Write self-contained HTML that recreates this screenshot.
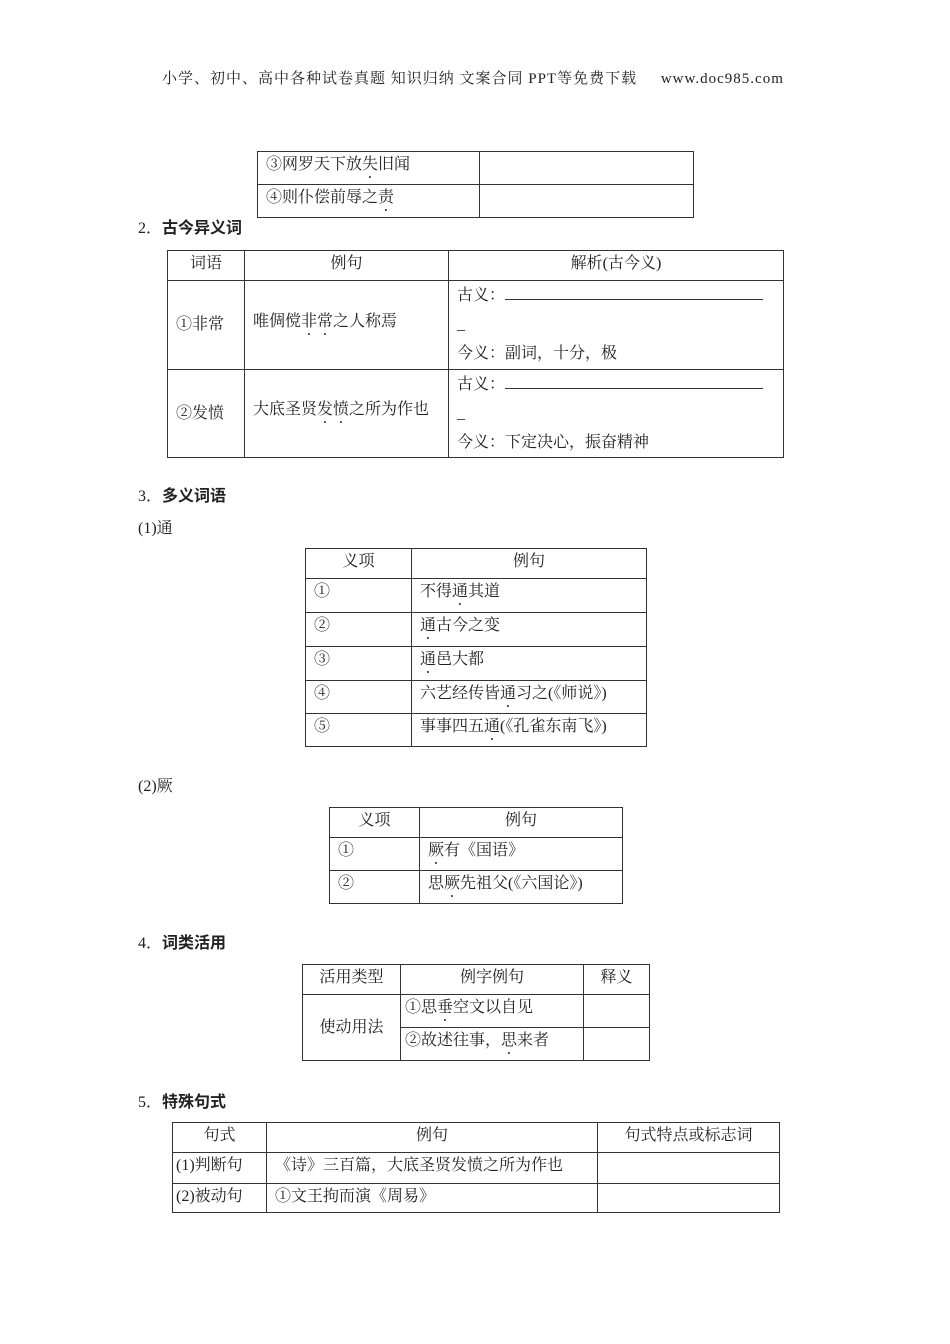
<!DOCTYPE html>
<html><head><meta charset="utf-8"><style>
body{margin:0;width:950px;height:1344px;background:#fff;position:relative;font-family:"Liberation Serif","Noto Serif CJK SC","Noto Sans CJK SC",serif;color:#222;font-size:16px;}
.a{position:absolute;white-space:nowrap;line-height:20px;}
b{font-family:"Liberation Sans","Noto Sans CJK SC",sans-serif;font-weight:bold;}
table{position:absolute;border-collapse:collapse;table-layout:fixed;}
td{border:1px solid #333;padding:3px 0 0 8px;vertical-align:top;line-height:20px;white-space:nowrap;overflow:hidden;font-size:16px;}
td.c{text-align:center;padding-left:0;}
td.m{vertical-align:middle;padding-top:0;}
em{font-style:normal;-webkit-text-emphasis:filled dot;text-emphasis:filled dot;-webkit-text-emphasis-position:under;text-emphasis-position:under right;}
</style></head><body>
<div class="a" style="left:162px;top:69px;font-size:15px;letter-spacing:1px;">小学、初中、高中各种试卷真题&nbsp;知识归纳&nbsp;文案合同&nbsp;PPT等免费下载&nbsp;&nbsp;&nbsp;&nbsp;&nbsp;www.doc985.com</div>

<table style="left:257px;top:151px;width:436px;">
<col style="width:222px"><col style="width:214px">
<tr style="height:33px"><td>③网罗天下放<em>失</em>旧闻</td><td></td></tr>
<tr style="height:33px"><td>④则仆偿前辱之<em>责</em></td><td></td></tr>
</table>

<div class="a" style="left:138px;top:219px;">2．<b>古今异义词</b></div>
<table style="left:167px;top:250px;width:616px;">
<col style="width:77px"><col style="width:204px"><col style="width:335px">
<tr style="height:30px"><td class="c">词语</td><td class="c">例句</td><td class="c">解析(古今义)</td></tr>
<tr style="height:89px"><td class="m">①非常</td><td class="m">唯倜傥<em>非常</em>之人称焉</td><td style="line-height:29px;padding-top:0">古义：<span style="display:inline-block;width:258px;border-bottom:1px solid #333;height:18px;vertical-align:baseline"></span><br>_<br>今义：副词，十分，极</td></tr>
<tr style="height:88px"><td class="m">②发愤</td><td class="m">大底圣贤<em>发愤</em>之所为作也</td><td style="line-height:29px;padding-top:0">古义：<span style="display:inline-block;width:258px;border-bottom:1px solid #333;height:18px;vertical-align:baseline"></span><br>_<br>今义：下定决心，振奋精神</td></tr>
</table>

<div class="a" style="left:138px;top:487px;">3．<b>多义词语</b></div>
<div class="a" style="left:138px;top:519px;">(1)通</div>
<table style="left:305px;top:548px;width:341px;">
<col style="width:106px"><col style="width:235px">
<tr style="height:30px"><td class="c">义项</td><td class="c">例句</td></tr>
<tr style="height:34px"><td>①</td><td>不得<em>通</em>其道</td></tr>
<tr style="height:34px"><td>②</td><td><em>通</em>古今之变</td></tr>
<tr style="height:34px"><td>③</td><td><em>通</em>邑大都</td></tr>
<tr style="height:33px"><td>④</td><td>六艺经传皆<em>通</em>习之(《师说》)</td></tr>
<tr style="height:33px"><td>⑤</td><td>事事四五<em>通</em>(《孔雀东南飞》)</td></tr>
</table>

<div class="a" style="left:138px;top:777px;">(2)厥</div>
<table style="left:329px;top:807px;width:293px;">
<col style="width:90px"><col style="width:203px">
<tr style="height:30px"><td class="c">义项</td><td class="c">例句</td></tr>
<tr style="height:33px"><td>①</td><td><em>厥</em>有《国语》</td></tr>
<tr style="height:33px"><td>②</td><td>思<em>厥</em>先祖父(《六国论》)</td></tr>
</table>

<div class="a" style="left:138px;top:934px;">4．<b>词类活用</b></div>
<table style="left:302px;top:964px;width:347px;">
<col style="width:98px"><col style="width:183px"><col style="width:66px">
<tr style="height:30px"><td class="c">活用类型</td><td class="c">例字例句</td><td class="c">释义</td></tr>
<tr style="height:33px"><td class="c m" rowspan="2">使动用法</td><td style="padding-left:4px">①思<em>垂</em>空文以自见</td><td></td></tr>
<tr style="height:33px"><td style="padding-left:4px">②故述往事，<em>思</em>来者</td><td></td></tr>
</table>

<div class="a" style="left:138px;top:1093px;">5．<b>特殊句式</b></div>
<table style="left:172px;top:1122px;width:607px;">
<col style="width:94px"><col style="width:331px"><col style="width:182px">
<tr style="height:30px"><td class="c">句式</td><td class="c">例句</td><td class="c">句式特点或标志词</td></tr>
<tr style="height:31px"><td style="padding-left:3px">(1)判断句</td><td>《诗》三百篇，大底圣贤发愤之所为作也</td><td></td></tr>
<tr style="height:29px"><td style="padding-left:3px">(2)被动句</td><td>①文王拘而演《周易》</td><td></td></tr>
</table>
</body></html>
